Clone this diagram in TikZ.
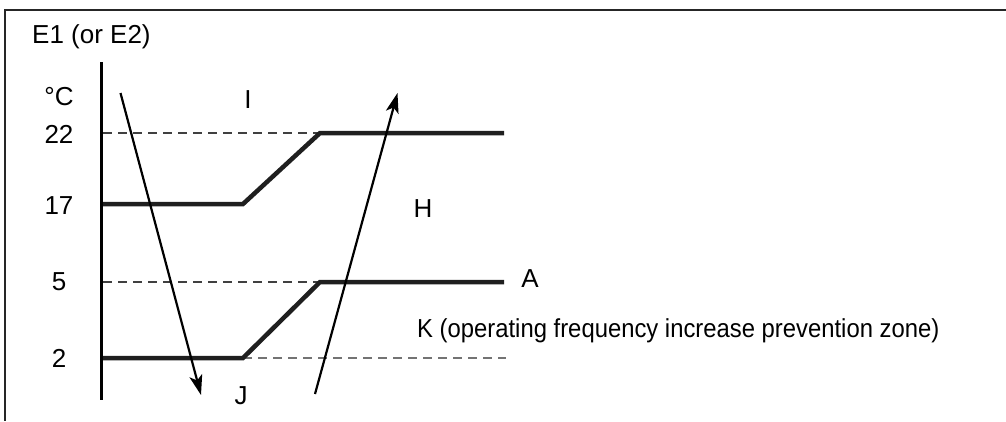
\documentclass[tikz,border=0pt]{standalone}
\usepackage{fontspec}
\setmainfont{Liberation Sans}
\usetikzlibrary{arrows.meta}
\begin{document}
\begin{tikzpicture}[x=1pt,y=-1pt,
  lbl/.style={inner sep=0pt,font=\fontsize{26}{30}\selectfont},
  thickline/.style={line width=4.5pt,line join=miter,color=black!88},
  dashline/.style={line width=1.5pt,dash pattern=on 9pt off 6pt,color=black!75},
  arr/.style={line width=2.2pt,-{Stealth[length=20pt,width=13pt,inset=5pt]}},
  frameline/.style={line width=2.5pt,color=black!85}]
\useasboundingbox (0,0) rectangle (1006,421);
% frame
\draw[frameline] (1006,10) -- (5,10) -- (5,421);
% axis
\draw[line width=3pt] (101.5,62) -- (101.5,400);
% labels
\node[lbl,anchor=west] (title) at (32,37) {E1 (or E2)};
\node[lbl] (unit) at (59,97) {°C};
\node[lbl] (t22) at (59,134) {22};
\node[lbl] (t17) at (59,206) {17};
\node[lbl] (t5) at (59,282) {5};
\node[lbl] (t2) at (59,358) {2};
\node[lbl] (I) at (248,100) {I};
\node[lbl] (H) at (423,209) {H};
\node[lbl] (A) at (530,279) {A};
\node[lbl,anchor=west] (K) at (417,331) {\scalebox{0.917}[1]{K (operating frequency increase prevention zone)}};
\node[lbl] (J) at (241,396) {J};
% dashed reference lines
\draw[dashline] (103,133) -- (320,133);
\draw[dashline] (103,282) -- (320,282);
\draw[dashline,color=black!55] (243,358) -- (506,358);
% thresholds
\draw[thickline] (103,204) -- (243,204) -- (320,133) -- (504,133);
\draw[thickline] (103,358) -- (243,358) -- (320,282) -- (504,282);
% arrows
\coordinate (d1) at (120.5,93);
\coordinate (d2) at (201,395);
\coordinate (u1) at (315,394);
\coordinate (u2) at (397.5,93);
\draw[arr] (d1) -- (d2);
\draw[arr] (u1) -- (u2);
\end{tikzpicture}
\end{document}
